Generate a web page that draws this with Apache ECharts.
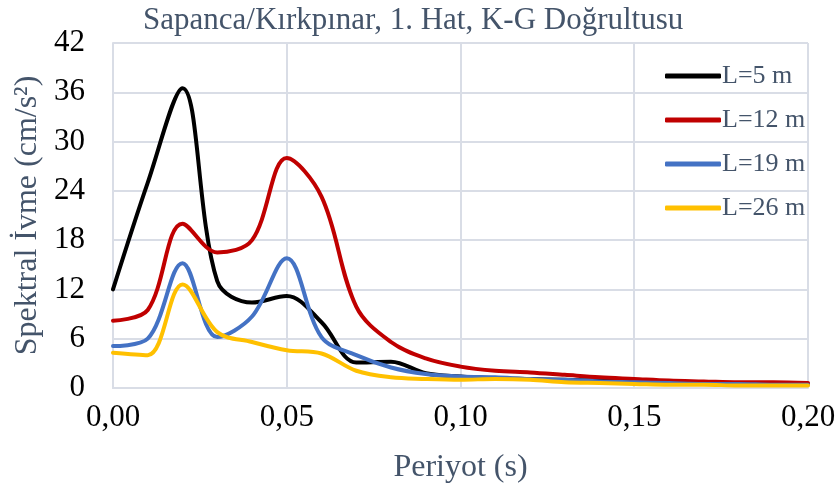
<!DOCTYPE html>
<html>
<head>
<meta charset="utf-8">
<script src="https://cdn.jsdelivr.net/npm/echarts@6/dist/echarts.min.js"></script>
<style>
  html, body { margin: 0; padding: 0; background: #fff; }
  #chart { width: 839px; height: 491px; }
</style>
</head>
<body>
<div id="chart"></div>
<script>
// periyot (s)
var periods = [0.00, 0.01, 0.02, 0.03, 0.04, 0.05, 0.06, 0.07, 0.08, 0.09, 0.10,
               0.11, 0.12, 0.13, 0.14, 0.15, 0.16, 0.17, 0.18, 0.19, 0.20];
var seriesNames = ['L=5 m', 'L=12 m', 'L=19 m', 'L=26 m'];
var colors = ['#000000', '#c00000', '#4472c4', '#ffc000'];

var L5  = [12.0, 25.0, 36.5, 13.0, 10.4, 11.2, 8.0, 3.1, 3.2, 1.8, 1.4, 1.2, 1.1, 1.0, 0.9, 0.8, 0.7, 0.7, 0.6, 0.6, 0.5];
var L12 = [8.2, 9.5, 20.0, 16.5, 18.0, 28.0, 23.3, 9.9, 5.6, 3.6, 2.6, 2.1, 1.9, 1.6, 1.3, 1.1, 0.9, 0.8, 0.7, 0.7, 0.6];
var L19 = [5.1, 6.0, 15.2, 6.2, 8.7, 15.8, 6.2, 4.0, 2.5, 1.7, 1.4, 1.3, 1.1, 1.0, 0.8, 0.7, 0.6, 0.5, 0.5, 0.4, 0.4];
var L26 = [4.3, 4.0, 12.6, 6.8, 5.6, 4.6, 4.2, 2.1, 1.3, 1.1, 1.0, 1.1, 1.0, 0.7, 0.6, 0.5, 0.4, 0.4, 0.3, 0.3, 0.3];
var allData = [L5, L12, L19, L26];

var chart = echarts.init(document.getElementById('chart'));
var font = 'Liberation Serif';

function pairs(ys) {
  return periods.map(function (p, i) { return [p, ys[i]]; });
}

var series = seriesNames.map(function (name, k) {
  return {
    name: name,
    type: 'line',
    data: pairs(allData[k]),
    smooth: 0.35,
    showSymbol: false,
    lineStyle: { width: 4, color: colors[k], cap: 'round' },
    itemStyle: { color: colors[k] }
  };
});

var option = {
  animation: false,
  title: {
    text: 'Sapanca/Kırkpınar, 1. Hat, K-G Doğrultusu',
    left: 138,
    top: 0,
    textStyle: { fontFamily: font, fontSize: 31, fontWeight: 'normal', color: '#44546a' }
  },
  legend: {
    orient: 'vertical',
    left: 660,
    top: 58,
    itemWidth: 56,
    itemHeight: 5,
    itemGap: 18,
    icon: 'roundRect',
    data: seriesNames,
    textStyle: { fontFamily: font, fontSize: 26, color: '#44546a', padding: [0, 0, 0, -4] }
  },
  grid: { left: 113, right: 31, top: 43, bottom: 103 },
  xAxis: {
    type: 'value',
    min: 0,
    max: 0.2,
    interval: 0.05,
    name: 'Periyot (s)',
    nameLocation: 'middle',
    nameGap: 64,
    nameTextStyle: { fontFamily: font, fontSize: 32, color: '#44546a' },
    axisLine: { show: true, lineStyle: { color: '#d9dde6', width: 2 } },
    axisTick: { show: false },
    axisLabel: {
      fontFamily: font, fontSize: 31, color: '#000', margin: 14,
      formatter: function (v) { return v.toFixed(2).replace('.', ','); }
    },
    splitLine: { show: true, lineStyle: { color: '#d9dde6', width: 2 } }
  },
  yAxis: {
    type: 'value',
    min: 0,
    max: 42,
    interval: 6,
    name: 'Spektral İvme (cm/s²)',
    nameLocation: 'middle',
    nameGap: 68,
    nameTextStyle: { fontFamily: font, fontSize: 32, color: '#44546a' },
    axisLine: { show: true, lineStyle: { color: '#d9dde6', width: 2 } },
    axisTick: { show: false },
    axisLabel: { fontFamily: font, fontSize: 31, color: '#000', margin: 28 },
    splitLine: { show: true, lineStyle: { color: '#d9dde6', width: 2 } }
  },
  series: series
};

chart.setOption(option);
</script>
</body>
</html>
